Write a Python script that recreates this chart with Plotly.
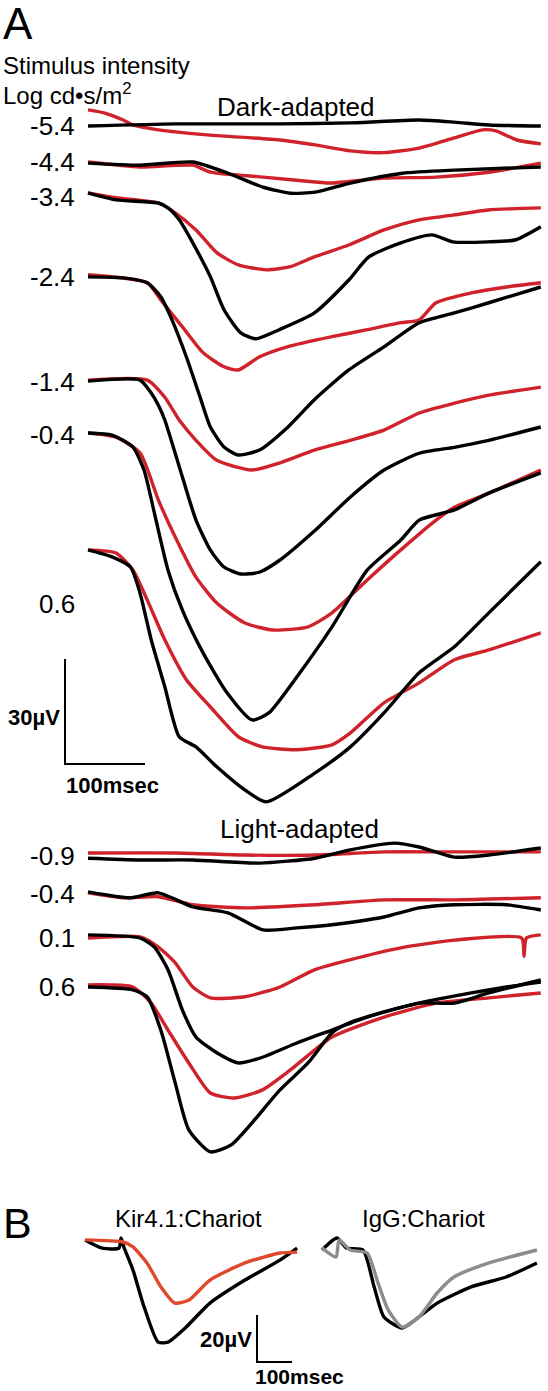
import plotly.graph_objects as go

# ---------------- colours ----------------
RED = "#D0222A"
BLACK = "#000000"
B_RED = "#E0482B"
GRAY = "#8C8C8C"

# ================= DATA (time in ms, amplitude in microvolts, relative to pre-flash baseline) =================
# ---- Panel A, dark-adapted ----
dark_levels = ["-5.4", "-4.4", "-3.4", "-2.4", "-1.4", "-0.4", "0.6"]

t_da_54_k = [0, 109, 240, 328, 414, 458, 501, 566]
uv_da_54_k = [0, 0.6, 0.6, 0.9, 1.7, 1.1, 0.3, 0]
t_da_54_r = [0, 21, 44, 56, 88, 153, 240, 284, 328, 370, 414, 458, 493, 510, 536, 566]
uv_da_54_r = [4.6, 3.7, 1.7, 0.3, -1.1, -2.6, -4.0, -5.4, -7.1, -7.6, -6.3, -3.4, -1.1, -1.4, -4.0, -5.1]

t_da_44_k = [0, 65, 131, 175, 219, 253, 284, 328, 393, 458, 566]
uv_da_44_k = [0, -0.6, 0.3, -2.9, -6.9, -8.6, -8.3, -5.7, -2.9, -2.0, -1.1]
t_da_44_r = [0, 65, 131, 153, 219, 284, 305, 370, 435, 501, 566]
uv_da_44_r = [0.3, -1.1, -0.6, -2.6, -4.0, -5.4, -5.7, -4.3, -4.0, -2.6, 0]

t_da_34_k = [0, 35, 88, 100, 114, 131, 153, 170, 191, 210, 239, 283, 326, 351, 391, 430, 456, 500, 535, 566]
uv_da_34_k = [0, -2.0, -2.9, -4.3, -7.7, -14.3, -24.0, -33.4, -40.0, -41.7, -39.1, -34.3, -24.9, -18.3, -14.3, -12.0, -14.0, -14.0, -13.4, -9.7]
t_da_34_r = [0, 35, 88, 109, 135, 161, 188, 223, 253, 283, 326, 370, 414, 458, 500, 566]
uv_da_34_r = [0, -1.4, -2.9, -5.7, -10.6, -17.1, -20.6, -22.0, -21.1, -18.3, -14.9, -10.6, -7.7, -6.3, -4.9, -4.3]

t_da_24_k = [0, 44, 74, 91, 105, 123, 140, 153, 170, 188, 215, 249, 283, 326, 370, 414, 458, 501, 566]
uv_da_24_k = [0, -0.3, -1.7, -5.7, -12.3, -22.9, -34.3, -42.9, -48.6, -50.9, -49.4, -43.1, -35.1, -26.6, -20.0, -13.1, -10.3, -7.4, -2.9]
t_da_24_r = [0, 74, 91, 118, 144, 170, 188, 214, 249, 305, 349, 391, 414, 435, 479, 523, 566]
uv_da_24_r = [0.6, -1.7, -6.6, -14.3, -21.7, -25.7, -26.6, -22.9, -20.0, -17.1, -15.1, -13.1, -12.3, -7.4, -4.6, -2.9, -1.7]

t_da_14_k = [0, 65, 79, 88, 96, 118, 135, 153, 170, 191, 214, 240, 284, 328, 370, 414, 458, 501, 566]
uv_da_14_k = [0, 0.3, -3.4, -6.9, -11.1, -27.4, -39.7, -48.3, -53.1, -55.1, -54.6, -51.1, -42.6, -33.1, -25.4, -20.6, -18.9, -16.9, -13.1]
t_da_14_r = [0, 74, 96, 114, 135, 161, 205, 239, 283, 328, 370, 414, 458, 501, 566]
uv_da_14_r = [0.3, 0.3, -4.6, -11.1, -16.9, -22.6, -25.4, -23.4, -19.7, -16.9, -14.0, -9.1, -6.3, -4.0, -1.7]

t_da_04_k = [0, 30, 56, 70, 83, 100, 118, 144, 174, 205, 226, 261, 305, 349, 391, 414, 458, 501, 566]
uv_da_04_k = [0.3, -0.3, -3.7, -10.3, -22.6, -38.9, -50.3, -62.6, -74.0, -81.7, -79.7, -69.4, -55.1, -38.9, -30.3, -24.6, -21.7, -16.9, -11.1]
t_da_04_r = [0, 35, 65, 88, 109, 135, 161, 196, 231, 275, 305, 349, 391, 435, 458, 501, 566]
uv_da_04_r = [0.3, -0.9, -5.4, -18.9, -29.4, -40.9, -48.3, -54.0, -56.0, -55.1, -51.1, -41.7, -33.1, -24.6, -20.9, -16.9, -10.3]

t_da_06_k = [0, 30, 53, 65, 79, 96, 114, 135, 161, 196, 223, 284, 328, 370, 414, 458, 501, 566]
uv_da_06_k = [0, -2.0, -4.9, -12.3, -25.7, -39.1, -53.4, -56.3, -62.0, -68.6, -72.0, -63.7, -56.3, -46.6, -35.1, -27.7, -18.0, -3.4]
t_da_06_r = [0, 35, 56, 74, 96, 123, 153, 188, 218, 261, 305, 328, 370, 414, 458, 501, 566]
uv_da_06_r = [0, -0.9, -5.7, -14.3, -25.7, -37.1, -44.9, -53.4, -56.3, -57.1, -55.7, -52.3, -43.7, -38.0, -31.4, -28.6, -23.7]

# ---- Panel A, light-adapted ----
light_levels = ["-0.9", "-0.4", "0.1", "0.6"]

t_la_09_k = [0, 65, 131, 214, 284, 326, 383, 414, 458, 501, 566]
uv_la_09_k = [-0.9, -1.4, -1.4, -2.3, -0.9, 1.4, 3.4, 2.3, -0.6, 0, 2.0]
t_la_09_r = [0, 109, 196, 284, 370, 458, 566]
uv_la_09_r = [0.6, 0.6, 0, 0, 0.9, 0.9, 0.9]

t_la_04_k = [0, 53, 88, 131, 175, 219, 261, 305, 370, 414, 458, 523, 566]
uv_la_04_k = [0.3, -1.4, 0, -4.0, -5.7, -10.6, -10.0, -9.1, -6.9, -4.3, -3.4, -3.4, -4.9]
t_la_04_r = [0, 44, 88, 131, 196, 284, 370, 458, 566]
uv_la_04_r = [0, -1.4, -1.1, -3.4, -4.3, -3.4, -2.0, -2.0, -1.4]

t_la_01_k = [0, 65, 83, 100, 118, 135, 161, 188, 219, 261, 305, 349, 414, 479, 523, 566]
uv_la_01_k = [0.6, -0.3, -2.9, -9.4, -20.9, -28.6, -33.1, -36.0, -34.3, -30.3, -26.6, -22.9, -18.9, -16.0, -14.3, -12.9]
t_la_01_r = [0, 65, 88, 109, 131, 153, 196, 240, 283, 326, 391, 458, 542, 545, 548, 566]
uv_la_01_r = [-0.3, 0, -2.9, -7.4, -14.3, -17.4, -17.1, -14.3, -9.4, -6.6, -3.1, -0.9, -0.3, -5.5, -0.3, 0.6]

t_la_06_k = [0, 56, 74, 91, 109, 126, 153, 179, 205, 240, 275, 305, 326, 370, 414, 458, 501, 566]
uv_la_06_k = [-0.3, -1.1, -3.1, -12.6, -27.7, -41.1, -47.4, -45.4, -39.1, -29.7, -22.0, -13.4, -10.6, -7.4, -4.9, -4.9, -2.0, 1.7]
t_la_06_r = [0, 56, 79, 100, 126, 153, 183, 218, 253, 305, 370, 435, 501, 566]
uv_la_06_r = [0.3, -0.3, -4.9, -12.6, -22.0, -30.6, -32.0, -29.7, -24.0, -14.6, -8.9, -4.9, -3.4, -2.0]

# ---- Panel B ----
t_b_kir_k = [0, 49, 97, 103, 111, 137, 169, 209, 237, 289, 357, 457, 557, 606]
uv_b_kir_k = [0.9, -2.6, -2.6, 1.7, -2.1, -11.9, -27.7, -42.6, -42.6, -36.2, -26.0, -16.2, -7.7, -2.6]
t_b_kir_r = [0, 109, 137, 177, 217, 257, 297, 357, 457, 557, 606]
uv_b_kir_r = [0.9, 0, -2.1, -8.9, -19.1, -26.0, -24.7, -16.2, -8.9, -4.7, -4.3]

t_b_igg_k = [0, 43, 69, 117, 149, 177, 229, 277, 329, 426, 526, 614]
uv_b_igg_k = [0, 5.1, 0.9, 0, -15.7, -28.5, -33.2, -28.5, -22.6, -15.7, -11.5, -5.5]
t_b_igg_g = [0, 40, 49, 80, 129, 160, 189, 229, 277, 329, 377, 477, 614]
uv_b_igg_g = [0.9, -3.0, 4.3, 0, -1.3, -14.0, -25.5, -32.8, -28.5, -18.3, -11.5, -5.5, 0]

# scale bars (data units)
scale_A = (100, 30)   # ms, uV
scale_B = (100, 20)

# ================= LAYOUT CONSTANTS =================
W, H = 548, 1391
# stacking offsets (uV) for each trace pair in panel A
dark_offsets = [-36.0, -46.6, -55.1, -79.1, -108.9, -124.0, -157.1]
light_offsets = [-244.3, -255.1, -267.7, -281.7]
# panel A axis: 0.8 px per ms, 3.5 px per uV, time 0 at x=88 px
A_XR = [-110, (W - 88) / 0.8]
A_YR = [-H / 3.5, 0]
# panel B axis: 0.35 px per ms, 2.35 px per uV
B_XR = [-85 / 0.35, (W - 85) / 0.35]
B_YR = [-H / 2.35, 0]
B_kir_offset = -1242 / 2.35
B_igg_offset = -1250 / 2.35
B_igg_shift = (322 - 85) / 0.35

fig = go.Figure()


def add(t, uv, off, color, xa="x", ya="y", shift=0, width=3.4):
    fig.add_trace(go.Scatter(
        x=[v + shift for v in t], y=[v + off for v in uv], mode="lines",
        line=dict(color=color, width=width, shape="spline", smoothing=0.6),
        xaxis=xa, yaxis=ya, hoverinfo="skip", showlegend=False))


dark_pairs = [
    (t_da_54_r, uv_da_54_r, t_da_54_k, uv_da_54_k),
    (t_da_44_r, uv_da_44_r, t_da_44_k, uv_da_44_k),
    (t_da_34_r, uv_da_34_r, t_da_34_k, uv_da_34_k),
    (t_da_24_r, uv_da_24_r, t_da_24_k, uv_da_24_k),
    (t_da_14_r, uv_da_14_r, t_da_14_k, uv_da_14_k),
    (t_da_04_r, uv_da_04_r, t_da_04_k, uv_da_04_k),
    (t_da_06_r, uv_da_06_r, t_da_06_k, uv_da_06_k),
]
light_pairs = [
    (t_la_09_r, uv_la_09_r, t_la_09_k, uv_la_09_k),
    (t_la_04_r, uv_la_04_r, t_la_04_k, uv_la_04_k),
    (t_la_01_r, uv_la_01_r, t_la_01_k, uv_la_01_k),
    (t_la_06_r, uv_la_06_r, t_la_06_k, uv_la_06_k),
]
for (tr, ur, tk, uk), off in zip(dark_pairs, dark_offsets):
    add(tr, ur, off, RED)
    add(tk, uk, off, BLACK)
for (tr, ur, tk, uk), off in zip(light_pairs, light_offsets):
    add(tr, ur, off, RED)
    add(tk, uk, off, BLACK)

# panel B
add(t_b_kir_k, uv_b_kir_k, B_kir_offset, BLACK, "x2", "y2")
add(t_b_kir_r, uv_b_kir_r, B_kir_offset, B_RED, "x2", "y2")
add(t_b_igg_k, uv_b_igg_k, B_igg_offset, BLACK, "x2", "y2", B_igg_shift)
add(t_b_igg_g, uv_b_igg_g, B_igg_offset, GRAY, "x2", "y2", B_igg_shift)

# scale bars
ax0, ay0 = -28.75, -764 / 3.5
fig.add_trace(go.Scatter(x=[ax0, ax0, ax0 + scale_A[0]], y=[ay0 + scale_A[1], ay0, ay0],
                         mode="lines", line=dict(color="black", width=2),
                         hoverinfo="skip", showlegend=False))
bx0, by0 = (257 - 85) / 0.35, -1362 / 2.35
fig.add_trace(go.Scatter(x=[bx0, bx0, bx0 + scale_B[0]], y=[by0 + scale_B[1], by0, by0],
                         mode="lines", line=dict(color="black", width=2),
                         xaxis="x2", yaxis="y2", hoverinfo="skip", showlegend=False))

FONT = "Liberation Sans, Arial, Helvetica, sans-serif"


def txt(s, x, y, size, xanchor="left", bold=False):
    fig.add_annotation(text=f"<b>{s}</b>" if bold else s, x=x / W, y=1 - y / H,
                       xref="paper", yref="paper", xanchor=xanchor, yanchor="middle",
                       showarrow=False, font=dict(family=FONT, size=size, color="black"))


txt("A", 1, 24, 44)
txt("Stimulus intensity", 1, 65, 24)
txt("Log cd•s/m<sup>2</sup>", 1, 94, 24)
txt("Dark-adapted", 296, 107, 26, "center")
dark_label_y = [126, 162, 197, 277, 382, 435, 604]
for lab, yy in zip(dark_levels, dark_label_y):
    txt(lab, 77, yy, 26, "right")
txt("30µV", 62, 717, 22, "right", True)
txt("100msec", 64, 785, 22, "left", True)
txt("Light-adapted", 299, 829, 26, "center")
light_label_y = [856, 894, 938, 987]
for lab, yy in zip(light_levels, light_label_y):
    txt(lab, 77, yy, 26, "right")
txt("B", 1, 1223, 43)
txt("Kir4.1:Chariot", 188, 1218, 24, "center")
txt("IgG:Chariot", 423, 1218, 24, "center")
txt("20µV", 254, 1339, 22, "right", True)
txt("100msec", 253, 1376, 21, "left", True)

ax_common = dict(visible=False, showgrid=False, zeroline=False, fixedrange=True)
fig.update_layout(
    width=W, height=H, margin=dict(l=0, r=0, t=0, b=0),
    paper_bgcolor="white", plot_bgcolor="white", showlegend=False,
    xaxis=dict(range=A_XR, domain=[0, 1], **ax_common),
    yaxis=dict(range=A_YR, domain=[0, 1], **ax_common),
    xaxis2=dict(range=B_XR, domain=[0, 1], anchor="y2", overlaying="x", **ax_common),
    yaxis2=dict(range=B_YR, domain=[0, 1], anchor="x2", overlaying="y", **ax_common),
)

fig.write_html("out.html", config={"staticPlot": True},
               post_script="document.body.style.margin='0';document.body.style.overflow='hidden';")
